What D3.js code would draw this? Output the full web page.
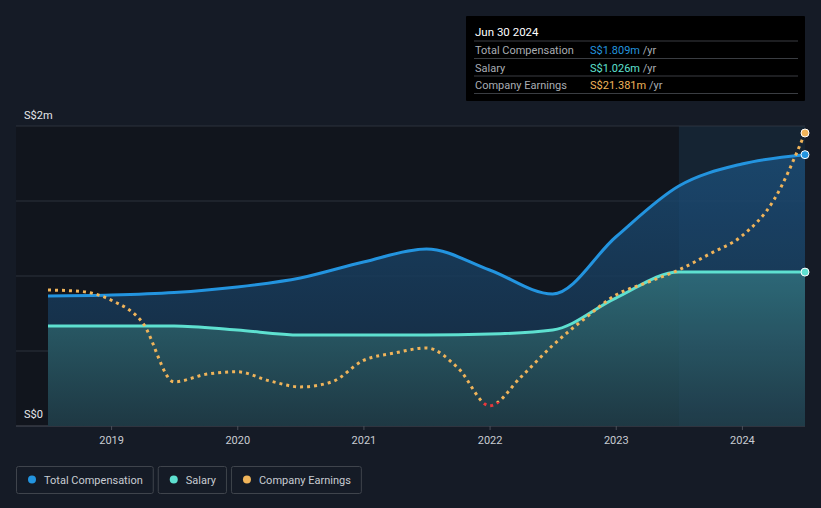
<!DOCTYPE html>
<html>
<head>
<meta charset="utf-8">
<script src="https://cdn.jsdelivr.net/npm/d3@7"></script>
<style>
  html, body { margin: 0; padding: 0; background: #151b26; }
  svg { display: block; font-family: Roboto, "Open Sans", sans-serif; }
</style>
</head>
<body>
<div id="chart"></div>
<script>
'use strict';

// half-yearly points, Jun 2018 .. Jun 2024
var dates = [2018.5, 2019.0, 2019.5, 2020.0, 2020.5, 2021.0, 2021.5, 2022.0, 2022.5, 2023.0, 2023.5, 2024.0, 2024.5];
var totalComp = [0.867, 0.873, 0.89, 0.927, 0.987, 1.093, 1.18, 1.04, 0.88, 1.26, 1.6, 1.747, 1.809];
var salary = [0.667, 0.667, 0.667, 0.64, 0.607, 0.607, 0.607, 0.613, 0.64, 0.853, 1.026, 1.026, 1.026];

// earnings, own scale, quarterly
var earnDates = [2018.5, 2018.75, 2019.0, 2019.25, 2019.5, 2019.75, 2020.0, 2020.25, 2020.5, 2020.75, 2021.0, 2021.25, 2021.5, 2021.75, 2022.0, 2022.25, 2022.5, 2022.75, 2023.0, 2023.25, 2023.5, 2023.75, 2024.0, 2024.25, 2024.5];
var earnings = [8.9, 8.8, 8.1, 6.3, 1.6, 2.2, 2.4, 1.7, 1.2, 1.6, 3.3, 3.9, 4.3, 2.7, -0.3, 2.0, 4.5, 6.6, 8.5, 9.5, 10.5, 11.8, 13.2, 16.0, 21.381];

var yearTicks = [2019, 2020, 2021, 2022, 2023, 2024];
var yTickVals = [0, 0.5, 1, 1.5, 2];

var tipTitle = 'Jun 30 2024';
var tipRows = [
  {label: 'Total Compensation', value: 'S$1.809m', color: '#2394df'},
  {label: 'Salary', value: 'S$1.026m', color: '#5ee0d0'},
  {label: 'Company Earnings', value: 'S$21.381m', color: '#f0b45a'}
];
var legendItems = [
  {label: 'Total Compensation', color: '#2394df'},
  {label: 'Salary', color: '#5ee0d0'},
  {label: 'Company Earnings', color: '#f0b45a'}
];

var W = 821, H = 508;
var svg = d3.select('#chart').append('svg').attr('width', W).attr('height', H);

var x = d3.scaleLinear().domain([2018.5, 2024.5]).range([48, 805]);
var y = d3.scaleLinear().domain([0, 2]).range([426, 126]);
var yE = d3.scaleLinear().domain([0, 21.381]).range([402, 133]);

var defs = svg.append('defs');
var g1 = defs.append('linearGradient').attr('id', 'gComp').attr('x1', 0).attr('y1', 0).attr('x2', 0).attr('y2', 1);
g1.append('stop').attr('offset', '0%').attr('stop-color', '#1a4a72').attr('stop-opacity', 0.85);
g1.append('stop').attr('offset', '100%').attr('stop-color', '#152a40').attr('stop-opacity', 0.85);
var g2 = defs.append('linearGradient').attr('id', 'gSal').attr('x1', 0).attr('y1', 0).attr('x2', 0).attr('y2', 1);
g2.append('stop').attr('offset', '0%').attr('stop-color', '#2f6d78').attr('stop-opacity', 0.9);
g2.append('stop').attr('offset', '100%').attr('stop-color', '#1f3a44').attr('stop-opacity', 0.9);

// plot background
svg.append('rect').attr('x', 16).attr('y', 126).attr('width', 789).attr('height', 300).attr('fill', '#11151d');
// last-year highlight
svg.append('rect').attr('x', x(2023.5)).attr('y', 126).attr('width', x(2024.5) - x(2023.5)).attr('height', 300)
  .attr('fill', '#13202d');

// grid
svg.append('g').selectAll('line').data(yTickVals).enter().append('line')
  .attr('x1', 16).attr('x2', 805)
  .attr('y1', function(d){ return y(d); }).attr('y2', function(d){ return y(d); })
  .attr('stroke', function(d){ return d === 0 ? '#4a4f58' : '#2c323c'; })
  .attr('stroke-width', 1);

var compData = dates.map(function(d, i){ return {x: d, v: totalComp[i]}; });
var salData = dates.map(function(d, i){ return {x: d, v: salary[i]}; });
var earnData = earnDates.map(function(d, i){ return {x: d, v: earnings[i]}; });

var area = d3.area().curve(d3.curveMonotoneX)
  .x(function(d){ return x(d.x); }).y0(y(0)).y1(function(d){ return y(d.v); });
var line = d3.line().curve(d3.curveMonotoneX)
  .x(function(d){ return x(d.x); }).y(function(d){ return y(d.v); });
var lineE = d3.line().curve(d3.curveMonotoneX)
  .x(function(d){ return x(d.x); }).y(function(d){ return yE(d.v); });

svg.append('path').datum(compData).attr('d', area).attr('fill', 'url(#gComp)');
svg.append('path').datum(salData).attr('d', area).attr('fill', 'url(#gSal)');

// highlight tint over areas
svg.append('rect').attr('x', x(2023.5)).attr('y', 126).attr('width', x(2024.5) - x(2023.5)).attr('height', 300)
  .attr('fill', '#3a7ab0').attr('opacity', 0.05);

svg.append('path').datum(compData).attr('d', line).attr('fill', 'none')
  .attr('stroke', '#2394df').attr('stroke-width', 3);
svg.append('path').datum(salData).attr('d', line).attr('fill', 'none')
  .attr('stroke', '#5ee0d0').attr('stroke-width', 3);

// earnings dotted: orange above zero, red below
defs.append('clipPath').attr('id', 'cPos').append('rect')
  .attr('x', 0).attr('y', 0).attr('width', W).attr('height', yE(0));
defs.append('clipPath').attr('id', 'cNeg').append('rect')
  .attr('x', 0).attr('y', yE(0)).attr('width', W).attr('height', H - yE(0));
svg.append('path').datum(earnData).attr('d', lineE).attr('fill', 'none')
  .attr('clip-path', 'url(#cPos)')
  .attr('stroke', '#f0b45a').attr('stroke-width', 3).attr('stroke-dasharray', '3,4');
svg.append('path').datum(earnData).attr('d', lineE).attr('fill', 'none')
  .attr('clip-path', 'url(#cNeg)')
  .attr('stroke', '#e8383c').attr('stroke-width', 3).attr('stroke-dasharray', '3,4');

// end dots
var last = dates.length - 1;
svg.append('circle').attr('cx', x(dates[last])).attr('cy', y(totalComp[last])).attr('r', 4)
  .attr('fill', '#2394df').attr('stroke', '#fff').attr('stroke-width', 1);
svg.append('circle').attr('cx', x(dates[last])).attr('cy', y(salary[last])).attr('r', 4)
  .attr('fill', '#5ee0d0').attr('stroke', '#fff').attr('stroke-width', 1);
svg.append('circle').attr('cx', x(earnDates[earnDates.length - 1])).attr('cy', yE(earnings[earnings.length - 1])).attr('r', 4)
  .attr('fill', '#f0b45a').attr('stroke', '#fff').attr('stroke-width', 1);

// x axis
var xAxis = svg.append('g').attr('transform', 'translate(0,426)')
  .call(d3.axisBottom(x).tickValues(yearTicks).tickFormat(d3.format('d')).tickSize(4));
xAxis.select('.domain').remove();
xAxis.selectAll('.tick line').attr('stroke', '#4a4f58');
xAxis.selectAll('.tick text').attr('fill', '#c8ccd2').attr('font-size', 11).attr('font-family', 'Roboto, sans-serif').attr('dy', '1em');

// y labels
svg.append('text').attr('x', 24).attr('y', 119).attr('fill', '#e6e8eb').attr('font-size', 11).text('S$2m');
svg.append('text').attr('x', 24).attr('y', 418).attr('fill', '#e6e8eb').attr('font-size', 11).text('S$0');

// tooltip
var tip = svg.append('g').attr('transform', 'translate(466,16)');
tip.append('rect').attr('width', 339).attr('height', 85).attr('fill', '#000').attr('rx', 1);
tip.append('text').attr('x', 9).attr('y', 20).attr('fill', '#fff').attr('font-size', 11.5).text(tipTitle);
tipRows.forEach(function(r, i){
  var ty = 25 + i * 17.5;
  tip.append('line').attr('x1', 8).attr('x2', 332).attr('y1', ty).attr('y2', ty).attr('stroke', '#3a3d42');
  tip.append('text').attr('x', 9).attr('y', ty + 13).attr('fill', '#a9adb3').attr('font-size', 11).text(r.label);
  var t = tip.append('text').attr('x', 124).attr('y', ty + 13).attr('font-size', 11);
  t.append('tspan').attr('fill', r.color).text(r.value);
  t.append('tspan').attr('fill', '#a9adb3').text(' /yr');
});
tip.append('line').attr('x1', 8).attr('x2', 332).attr('y1', 25 + 3 * 17.5).attr('y2', 25 + 3 * 17.5).attr('stroke', '#3a3d42');

// legend
var lx = 16;
legendItems.forEach(function(it){
  var lg = svg.append('g').attr('transform', 'translate(' + lx + ',466)');
  var txt = lg.append('text').attr('x', 28).attr('y', 17.5).attr('fill', '#c8ccd2').attr('font-size', 11).text(it.label);
  var w = txt.node().getComputedTextLength() + 38;
  lg.insert('rect', 'text').attr('x', 0.5).attr('y', 0.5).attr('width', w).attr('height', 27).attr('rx', 2)
    .attr('fill', 'none').attr('stroke', '#3f444c');
  lg.append('circle').attr('cx', 16).attr('cy', 13.5).attr('r', 4).attr('fill', it.color);
  lx += w + 5;
});
</script>
</body>
</html>
